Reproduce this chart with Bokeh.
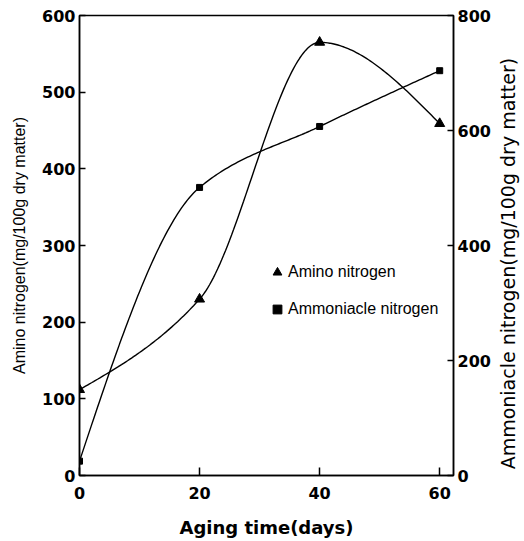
import numpy as np
from bokeh.plotting import figure
from bokeh.layouts import row
from bokeh.models import Range1d, LinearAxis, Legend, LegendItem, FixedTicker
from bokeh.embed import file_html
from bokeh.resources import INLINE

# ---- data ----
days = [0, 20, 40, 60]
amino_nitrogen = [112, 230, 565, 459]        # left axis, mg/100g dry matter
ammoniacle_nitrogen = [25, 501, 607, 704]    # right axis, mg/100g dry matter
x_ticks = [0, 20, 40, 60]
left_ticks = [0, 100, 200, 300, 400, 500, 600]
right_ticks = [0, 200, 400, 600, 800]


def smooth_path(xs, ys, n=60):
    """Smooth (monotone Hermite) path drawn through the data points."""
    xs = np.asarray(xs, float)
    ys = np.asarray(ys, float)
    h = np.diff(xs)
    d = np.diff(ys) / h
    m = np.zeros_like(ys)
    for k in range(1, len(xs) - 1):
        if d[k - 1] * d[k] <= 0:
            m[k] = 0.0
        else:
            w1 = 2 * h[k] + h[k - 1]
            w2 = h[k] + 2 * h[k - 1]
            m[k] = (w1 + w2) / (w1 / d[k - 1] + w2 / d[k])
    m[0] = (3 * d[0] - m[1]) / 2
    m[-1] = (3 * d[-1] - m[-2]) / 2
    px, py = [], []
    for k in range(len(xs) - 1):
        s = np.linspace(0, 1, n, endpoint=(k == len(xs) - 2))
        h00 = 2 * s**3 - 3 * s**2 + 1
        h10 = s**3 - 2 * s**2 + s
        h01 = -2 * s**3 + 3 * s**2
        h11 = s**3 - s**2
        px.extend(xs[k] + s * h[k])
        py.extend(h00 * ys[k] + h10 * h[k] * m[k] + h01 * ys[k + 1] + h11 * h[k] * m[k + 1])
    return px, py


BORDER_TOP, BORDER_BOTTOM = 15, 63

p = figure(width=493, height=540,
           x_range=Range1d(0, 62.3), y_range=Range1d(0, 600),
           output_backend="svg", toolbar_location=None,
           min_border_left=79, min_border_right=40,
           min_border_top=BORDER_TOP, min_border_bottom=BORDER_BOTTOM)
p.extra_y_ranges = {"right": Range1d(0, 800)}

p.xgrid.visible = False
p.ygrid.visible = False
p.outline_line_color = "black"
p.outline_line_width = 1.5
p.background_fill_color = "white"
p.border_fill_color = "white"

tick_font = "DejaVu Sans"

xa = p.xaxis[0]
xa.ticker = FixedTicker(ticks=x_ticks)
xa.axis_label = "Aging time(days)"
xa.axis_label_text_font = "DejaVu Sans"
xa.axis_label_text_font_style = "bold"
xa.axis_label_text_font_size = "18px"
xa.axis_label_standoff = 15
xa.major_label_standoff = 11

ya = p.yaxis[0]
ya.ticker = FixedTicker(ticks=left_ticks)
ya.axis_label = "Amino nitrogen(mg/100g dry matter)"
ya.axis_label_text_font = "Liberation Sans"
ya.axis_label_text_font_style = "normal"
ya.axis_label_text_font_size = "16px"
ya.axis_label_standoff = 11
ya.major_label_standoff = 4

ra = LinearAxis(y_range_name="right", ticker=FixedTicker(ticks=right_ticks))
ra.major_label_standoff = 4
p.add_layout(ra, "right")

for ax in (xa, ya, ra):
    ax.major_label_text_font = tick_font
    ax.major_label_text_font_style = "bold"
    ax.major_label_text_font_size = "16px"
    ax.major_label_text_color = "black"
    ax.axis_label_text_color = "black"
    ax.axis_line_color = "black"
    ax.axis_line_width = 1.5
    ax.major_tick_line_color = "black"
    ax.major_tick_line_width = 1.5
    ax.major_tick_out = 0
    ax.minor_tick_line_color = None
xa.major_tick_in = 8
ya.major_tick_in = 6
ra.major_tick_in = 6

# curves
ax_, ay_ = smooth_path(days, amino_nitrogen)
p.line(ax_, ay_, line_color="black", line_width=1.4)
bx_, by_ = smooth_path(days, ammoniacle_nitrogen)
p.line(bx_, by_, line_color="black", line_width=1.4, y_range_name="right")

tri = p.scatter(days, amino_nitrogen, marker="triangle", size=10, color="black")
sq = p.scatter(days, ammoniacle_nitrogen, marker="square", size=6, color="black",
               y_range_name="right")

legend = Legend(items=[LegendItem(label="Amino nitrogen", renderers=[tri]),
                       LegendItem(label="Ammoniacle nitrogen", renderers=[sq])],
                location=(187, 155))
legend.border_line_color = None
legend.background_fill_alpha = 0
legend.padding = 0
legend.margin = 0
legend.spacing = 15
legend.glyph_width = 22
legend.glyph_height = 22
legend.label_height = 22
legend.label_standoff = 0
legend.label_text_font = "Liberation Sans"
legend.label_text_font_size = "16px"
legend.label_text_color = "black"
p.add_layout(legend)

# narrow companion figure that carries the right-hand axis title (reads bottom-to-top)
p2 = figure(width=29, height=540, x_range=Range1d(0, 1), y_range=Range1d(0, 800),
            output_backend="svg", toolbar_location=None,
            min_border_left=25, min_border_right=0,
            min_border_top=BORDER_TOP, min_border_bottom=BORDER_BOTTOM)
p2.outline_line_color = None
p2.xgrid.visible = False
p2.ygrid.visible = False
p2.xaxis.visible = False
p2.background_fill_color = "white"
p2.border_fill_color = "white"
ta = p2.yaxis[0]
ta.ticker = FixedTicker(ticks=[])
ta.axis_line_color = None
ta.major_tick_line_color = None
ta.minor_tick_line_color = None
ta.major_label_text_font_size = "0px"
# trailing no-break spaces nudge the centred title a little lower, as in the reference
ta.axis_label = "Ammoniacle nitrogen(mg/100g dry matter)" + "\u00a0" * 6
ta.axis_label_text_font = "DejaVu Sans"
ta.axis_label_text_font_style = "normal"
ta.axis_label_text_font_size = "19px"
ta.axis_label_text_color = "black"
ta.axis_label_standoff = 0

layout = row(p, p2)
open("out.html", "w").write(file_html(layout, INLINE))
